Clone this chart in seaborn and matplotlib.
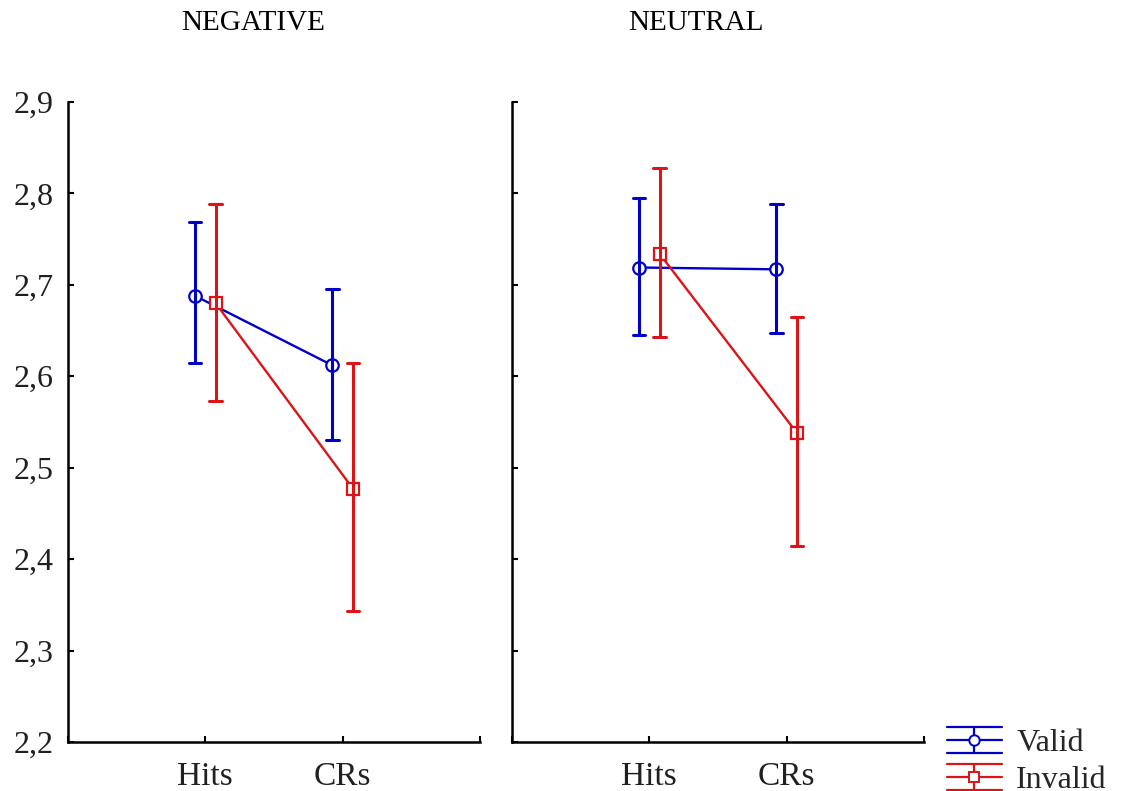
import numpy as np
import pandas as pd
import seaborn as sns
import matplotlib
matplotlib.use("Agg")
import matplotlib.pyplot as plt
from matplotlib.ticker import FuncFormatter
from matplotlib.lines import Line2D
from matplotlib.legend_handler import HandlerBase

# ---- data ----
panels = ["NEGATIVE", "NEUTRAL"]
categories = ["Hits", "CRs"]
series = ["Valid", "Invalid"]

neg_valid_mean = [2.688, 2.612]
neg_valid_low = [2.615, 2.530]
neg_valid_high = [2.769, 2.695]
neg_invalid_mean = [2.680, 2.477]
neg_invalid_low = [2.573, 2.343]
neg_invalid_high = [2.788, 2.615]

neu_valid_mean = [2.719, 2.717]
neu_valid_low = [2.645, 2.647]
neu_valid_high = [2.795, 2.789]
neu_invalid_mean = [2.734, 2.538]
neu_invalid_low = [2.643, 2.414]
neu_invalid_high = [2.828, 2.665]

y_ticks = [2.2, 2.3, 2.4, 2.5, 2.6, 2.7, 2.8, 2.9]

colors = {"Valid": "#0000C8", "Invalid": "#DC1418"}
markers = {"Valid": "o", "Invalid": "s"}

table = {
    ("NEGATIVE", "Valid"): (neg_valid_low, neg_valid_mean, neg_valid_high),
    ("NEGATIVE", "Invalid"): (neg_invalid_low, neg_invalid_mean, neg_invalid_high),
    ("NEUTRAL", "Valid"): (neu_valid_low, neu_valid_mean, neu_valid_high),
    ("NEUTRAL", "Invalid"): (neu_invalid_low, neu_invalid_mean, neu_invalid_high),
}
rows = []
for (p, s), (lo, mu, hi) in table.items():
    for i, c in enumerate(categories):
        for v in (lo[i], mu[i], hi[i]):
            rows.append({"panel": p, "series": s, "cat": c, "value": v})
df = pd.DataFrame(rows)

sns.set_theme(style="ticks")
plt.rcParams["font.family"] = ["Liberation Serif", "DejaVu Serif"]

fig = plt.figure(figsize=(11.22, 7.91), dpi=100)
axes = [fig.add_axes([0.0606, 0.062, 0.3672, 0.809]),
        fig.add_axes([0.4563, 0.062, 0.3672, 0.809])]

title_x = [253 / 1122, 696 / 1122]

for k, (ax, p) in enumerate(zip(axes, panels)):
    sub = df[df["panel"] == p]
    sns.pointplot(data=sub, x="cat", y="value", hue="series",
                  order=categories, hue_order=series,
                  palette=colors, markers=[markers[s] for s in series],
                  linestyles=["-", "-"],
                  estimator="median", errorbar=lambda x: (x.min(), x.max()),
                  dodge=0.15, capsize=0.09, err_kws={"linewidth": 2.2},
                  linewidth=1.7, markersize=9, markeredgewidth=1.6,
                  legend=False, ax=ax)
    for ln in ax.lines:
        ln.set_markerfacecolor("white")
        ln.set_zorder(3)
    ax.set_ylim(2.2, 2.9)
    ax.set_xlim(-1, 2)
    ax.set_xticks([-1, 0, 1, 2])
    ax.set_xticklabels(["", "Hits", "CRs", ""])
    ax.set_yticks(y_ticks)
    ax.yaxis.set_major_formatter(FuncFormatter(lambda v, pos: f"{v:.1f}".replace(".", ",")))
    ax.set_xlabel("")
    ax.set_ylabel("")
    for side in ("top", "right"):
        ax.spines[side].set_visible(False)
    for side in ("left", "bottom"):
        ax.spines[side].set_color("black")
        ax.spines[side].set_linewidth(1.8)
    ax.tick_params(direction="in", length=4, width=1.5, color="black",
                   labelcolor="#202020")
    ax.tick_params(axis="y", labelsize=23, pad=10)
    ax.tick_params(axis="x", labelsize=24, pad=14)
    if k == 1:
        ax.tick_params(axis="y", labelleft=False)
    fig.text(title_x[k], 1 - 23 / 791, p, ha="center", va="center",
             fontsize=21, color="black")


class HandlerErrGlyph(HandlerBase):
    def create_artists(self, legend, orig_handle, xdescent, ydescent,
                       width, height, fontsize, trans):
        c = orig_handle.get_color()
        m = orig_handle.get_marker()
        x0, x1 = -xdescent, -xdescent + width
        xm = (x0 + x1) / 2
        ym = -ydescent + height / 2
        d = 9.6
        arts = []
        for yy in (ym - d, ym, ym + d):
            arts.append(Line2D([x0, x1], [yy, yy], color=c, lw=1.6))
        arts.append(Line2D([xm, xm], [ym - d, ym + d], color=c, lw=1.6))
        arts.append(Line2D([xm], [ym], marker=m, color=c, mfc="white",
                           mec=c, mew=1.4, markersize=7.5, linestyle="none"))
        for a in arts:
            a.set_transform(trans)
        return arts


handles = [Line2D([], [], color=colors[s], marker=markers[s]) for s in series]
fig.legend(handles, series, loc="center left",
           bbox_to_anchor=(947 / 1122, 1 - 762 / 791),
           handler_map={Line2D: HandlerErrGlyph()},
           frameon=False, fontsize=23, handlelength=1.72, handletextpad=0.45,
           labelspacing=0.24, borderpad=0, borderaxespad=0)

fig.savefig("out.png", dpi=100)
